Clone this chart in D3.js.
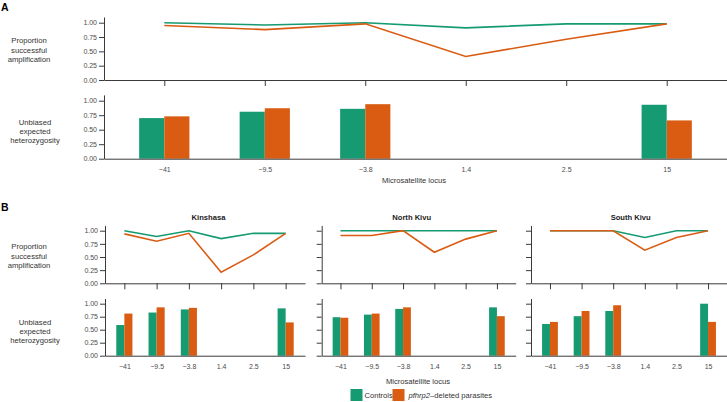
<!DOCTYPE html>
<html>
<head>
<meta charset="utf-8">
<script src="https://cdn.jsdelivr.net/npm/d3@7"></script>
<style>
  body { margin: 0; background: #fff; }
  svg text { font-family: "Liberation Sans", Arial, sans-serif; }
</style>
</head>
<body>
<script>
// Data
// =================================
var loci = ["\u221241", "\u22129.5", "\u22123.8", "1.4", "2.5", "15"];
var yTicks = [0, 0.25, 0.5, 0.75, 1];

// Panel A (all regions)
var ampControlsA = [1.0, 0.96, 1.0, 0.91, 0.98, 0.98];
var ampDeletedA = [0.95, 0.88, 0.98, 0.41, 0.71, 0.98];
var hetControlsA = [0.70, 0.81, 0.86, null, null, 0.93];
var hetDeletedA = [0.73, 0.87, 0.94, null, null, 0.66];

// Panel B, by region
var regions = ["Kinshasa", "North Kivu", "South Kivu"];
var ampControlsB = [
  [1.0, 0.89, 1.0, 0.85, 0.95, 0.95],
  [1.0, 1.0, 1.0, 1.0, 1.0, 1.0],
  [1.0, 1.0, 1.0, 0.87, 1.0, 1.0]
];
var ampDeletedB = [
  [0.94, 0.80, 0.95, 0.21, 0.54, 0.95],
  [0.91, 0.91, 1.0, 0.59, 0.84, 1.0],
  [1.0, 1.0, 1.0, 0.63, 0.87, 1.0]
];
var hetControlsB = [
  [0.59, 0.83, 0.89, null, null, 0.91],
  [0.74, 0.79, 0.90, null, null, 0.93],
  [0.61, 0.76, 0.86, null, null, 1.0]
];
var hetDeletedB = [
  [0.81, 0.93, 0.92, null, null, 0.64],
  [0.73, 0.81, 0.93, null, null, 0.76],
  [0.65, 0.86, 0.97, null, null, 0.65]
];

var green = "#169a72";
var orange = "#d95c12";
var axisColor = "#3a3a3a";
var tickText = "#4d4d4d";

// Step 1: SVG
// =================================
var svg = d3.select("body")
  .append("svg")
  .attr("width", 727)
  .attr("height", 402);

// small helper for multi-line labels
function stackedLabel(lines, cx, baseline) {
  var t = svg.append("text")
    .attr("text-anchor", "middle")
    .attr("font-size", 7.7)
    .attr("fill", "#333");
  lines.forEach(function(l, i) {
    t.append("tspan").attr("x", cx).attr("y", baseline + i * 9.2).text(l);
  });
}

function makeX(x0, x1) {
  return d3.scalePoint().domain(loci).range([x0, x1]).padding(0.6);
}

function yAxis(g, y, x0, showLabels) {
  var ax = d3.axisLeft(y).tickValues(yTicks).tickSize(5).tickSizeOuter(0).tickPadding(2)
    .tickFormat(showLabels ? d3.format(".2f") : "");
  var a = g.append("g").attr("transform", `translate(${x0},0)`).call(ax);
  a.select(".domain").attr("stroke", axisColor);
  a.selectAll(".tick line").attr("stroke", axisColor);
  a.selectAll("text").attr("fill", tickText).attr("font-size", 7);
}

// Step 2: line chart (proportion successful amplification)
// =================================
function lineChart(x0, x1, y0, y1, ctrl, del, showLabels) {
  var x = makeX(x0, x1);
  var y = d3.scaleLinear().domain([0, 1.1]).range([y0, y0 - (y0 - y1) * 1.1]);
  var g = svg.append("g");

  var bottomAxis = d3.axisBottom(x).tickSize(6).tickSizeOuter(0).tickFormat("");
  var b = g.append("g").attr("transform", `translate(0,${y0})`).call(bottomAxis);
  b.select(".domain").attr("stroke", axisColor);
  b.selectAll(".tick line").attr("stroke", axisColor);

  yAxis(g, y, x0, showLabels);

  var line = d3.line()
    .x(function(d, i) { return x(loci[i]); })
    .y(function(d) { return y(d); });

  g.append("path").attr("d", line(ctrl))
    .attr("fill", "none").attr("stroke", green).attr("stroke-width", 1.6);
  g.append("path").attr("d", line(del))
    .attr("fill", "none").attr("stroke", orange).attr("stroke-width", 1.6);
}

// Step 3: bar chart (unbiased expected heterozygosity)
// =================================
function barChart(x0, x1, y0, y1, ctrl, del, showLabels) {
  var x = makeX(x0, x1);
  var y = d3.scaleLinear().domain([0, 1.1]).range([y0, y0 - (y0 - y1) * 1.1]);
  var w = x.step() * 0.25;
  var g = svg.append("g");

  var rows = loci.map(function(l, i) { return { locus: l, c: ctrl[i], d: del[i] }; })
    .filter(function(r) { return r.c !== null; });

  g.selectAll(".bc").data(rows).enter().append("rect")
    .attr("x", function(d) { return x(d.locus) - w; })
    .attr("y", function(d) { return y(d.c); })
    .attr("width", w)
    .attr("height", function(d) { return y0 - y(d.c); })
    .attr("fill", green);

  g.selectAll(".bd").data(rows).enter().append("rect")
    .attr("x", function(d) { return x(d.locus); })
    .attr("y", function(d) { return y(d.d); })
    .attr("width", w)
    .attr("height", function(d) { return y0 - y(d.d); })
    .attr("fill", orange);

  var bottomAxis = d3.axisBottom(x).tickSize(0).tickSizeOuter(0).tickPadding(8);
  var b = g.append("g").attr("transform", `translate(0,${y0})`).call(bottomAxis);
  b.select(".domain").attr("stroke", axisColor);
  b.selectAll("text").attr("fill", tickText).attr("font-size", 7);

  yAxis(g, y, x0, showLabels);
}

// Step 4: panel A
// =================================
svg.append("text").attr("x", 1).attr("y", 11)
  .attr("font-size", 10.5).attr("font-weight", "bold").text("A");

lineChart(104, 727, 80, 22.7, ampControlsA, ampDeletedA, true);
barChart(104, 727, 158.7, 100.7, hetControlsA, hetDeletedA, true);

stackedLabel(["Proportion", "successful", "amplification"], 29, 43.3);
stackedLabel(["Unbiased", "expected", "heterozygosity"], 35, 124.8);

svg.append("text").attr("x", 414).attr("y", 182.5)
  .attr("text-anchor", "middle").attr("font-size", 7.6).attr("fill", "#333")
  .text("Microsatellite locus");

// Step 5: panel B (facets)
// =================================
svg.append("text").attr("x", 1).attr("y", 211)
  .attr("font-size", 10.5).attr("font-weight", "bold").text("B");

var facetX = [[105, 305], [321.7, 515.7], [531, 727]];
var titleX = [208.5, 411.7, 630.7];

regions.forEach(function(r, i) {
  svg.append("text").attr("x", titleX[i]).attr("y", 220)
    .attr("text-anchor", "middle").attr("font-size", 7.6).attr("font-weight", "bold")
    .attr("fill", "#222").text(r);
  lineChart(facetX[i][0], facetX[i][1], 283.3, 230.7, ampControlsB[i], ampDeletedB[i], i === 0);
  barChart(facetX[i][0], facetX[i][1], 355.7, 303.7, hetControlsB[i], hetDeletedB[i], i === 0);
});

stackedLabel(["Proportion", "successful", "amplification"], 29, 249.3);
stackedLabel(["Unbiased", "expected", "heterozygosity"], 35, 325);

svg.append("text").attr("x", 418).attr("y", 383.5)
  .attr("text-anchor", "middle").attr("font-size", 7.6).attr("fill", "#333")
  .text("Microsatellite locus");

// Step 6: legend
// =================================
var legend = svg.append("g");
legend.append("rect").attr("x", 350.5).attr("y", 389).attr("width", 12).attr("height", 12).attr("fill", green);
legend.append("text").attr("x", 364.5).attr("y", 398).attr("font-size", 7.6).attr("fill", "#333").text("Controls");
legend.append("rect").attr("x", 392.5).attr("y", 389).attr("width", 12).attr("height", 12).attr("fill", orange);
var lt = legend.append("text").attr("x", 408.5).attr("y", 398).attr("font-size", 7.6).attr("fill", "#333");
lt.append("tspan").attr("font-style", "italic").text("pfhrp2");
lt.append("tspan").text("\u2013deleted parasites");
</script>
</body>
</html>
